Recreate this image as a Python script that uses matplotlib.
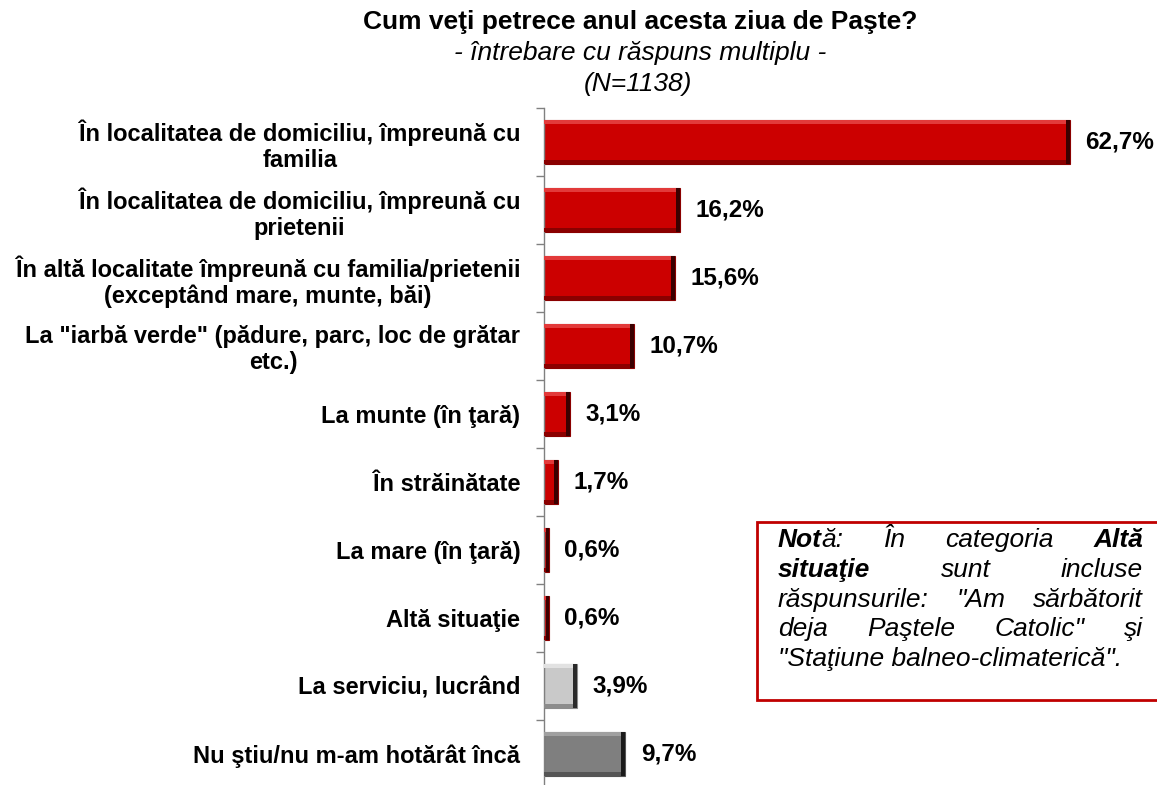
import matplotlib
matplotlib.use("Agg")
import matplotlib.pyplot as plt
import matplotlib.patches as mpatches
import matplotlib.transforms as mtransforms

# Date
categorii = [
    "În localitatea de domiciliu, împreună cu\nfamilia",
    "În localitatea de domiciliu, împreună cu\nprietenii",
    "În altă localitate împreună cu familia/prietenii\n(exceptând mare, munte, băi)",
    "La \"iarbă verde\" (pădure, parc, loc de grătar\netc.)",
    "La munte (în ţară)",
    "În străinătate",
    "La mare (în ţară)",
    "Altă situaţie",
    "La serviciu, lucrând",
    "Nu ştiu/nu m-am hotărât încă",
]
procente = [62.7, 16.2, 15.6, 10.7, 3.1, 1.7, 0.6, 0.6, 3.9, 9.7]
etichete = ["62,7%", "16,2%", "15,6%", "10,7%", "3,1%", "1,7%", "0,6%", "0,6%", "3,9%", "9,7%"]
tip = ["r", "r", "r", "r", "r", "r", "r", "r", "g1", "g2"]

titlu = "Cum veţi petrece anul acesta ziua de Paşte?"
subtitlu = "- întrebare cu răspuns multiplu -"
baza = "(N=1138)"

# culori: fata, lumina, umbra, capat
culori = {
    "r": ("#CC0000", "#E23A3A", "#8A0000", "#3A0000"),
    "g1": ("#C9C9C9", "#E2E2E2", "#8C8C8C", "#2A2A2A"),
    "g2": ("#7F7F7F", "#A0A0A0", "#555555", "#1A1A1A"),
}

FONT = "Liberation Sans"
W, H = 1157, 785
fig = plt.figure(figsize=(W / 100, H / 100), dpi=100)

ax_left, ax_top, ax_bot = 544, 108, 788
xmax = 72.0
px_per_unit = 8.39
ax_w = xmax * px_per_unit
ax = fig.add_axes([ax_left / W, 1 - ax_bot / H, ax_w / W, (ax_bot - ax_top) / H])

n = len(procente)
y = list(range(n))
h = 0.64
tx = 4 / px_per_unit       # grosime capat (unitati de date)
ty = 4 / 68.0              # grosime bevel sus/jos

for i, v in enumerate(procente):
    fata, lum, umb, cap = culori[tip[i]]
    ax.barh(i, v, height=h, color=fata, edgecolor=umb, linewidth=0.8, zorder=2)
    ax.barh(i - h / 2 + ty / 2, v, height=ty, color=lum, linewidth=0, zorder=3)
    ax.barh(i + h / 2 - ty / 2, v, height=ty, color=umb, linewidth=0, zorder=3)
    ax.barh(i, min(tx, v * 0.6), left=v - min(tx, v * 0.6), height=h, color=cap, linewidth=0, zorder=4)
    ax.annotate(etichete[i], (v, i), xytext=(11, 0), textcoords="offset points",
                ha="left", va="center", fontsize=17.5, fontweight="bold", family=FONT)

ax.set_xlim(0, xmax)
ax.set_ylim(n - 0.5, -0.5)
ax.set_yticks(y)
ax.set_yticklabels(categorii, fontsize=17, fontweight="bold", family=FONT,
                   multialignment="center", linespacing=1.15)
ax.set_yticks([k - 0.5 for k in range(n + 1)], minor=True)
ax.tick_params(axis="y", which="major", length=0, pad=17)
ax.tick_params(axis="y", which="minor", length=6, color="#808080", width=1)
ax.set_xticks([])
for s in ["top", "right", "bottom"]:
    ax.spines[s].set_visible(False)
ax.spines["left"].set_color("#808080")
ax.spines["left"].set_linewidth(1)

# Titlu
fig.text(640 / W, 1 - 22 / H, titlu, ha="center", va="center", fontsize=19,
         fontweight="bold", family=FONT)
fig.text(640 / W, 1 - 53 / H, subtitlu, ha="center", va="center", fontsize=19,
         style="italic", family=FONT)
fig.text(638 / W, 1 - 84 / H, baza, ha="center", va="center", fontsize=19,
         style="italic", family=FONT)

# Nota (text justificat)
ident = mtransforms.IdentityTransform()
caseta = mpatches.Rectangle((757, H - 700), 420, 178, transform=ident,
                            facecolor="white", edgecolor="#C00000", linewidth=2)
fig.add_artist(caseta)

nota = [
    [[("Not", "bold"), ("ă:", "normal")], [("În", "normal")], [("categoria", "normal")], [("Altă", "bold")]],
    [[("situaţie", "bold")], [("sunt", "normal")], [("incluse", "normal")]],
    [[("răspunsurile:", "normal")], [("\"Am", "normal")], [("sărbătorit", "normal")]],
    [[("deja", "normal")], [("Paştele", "normal")], [("Catolic\"", "normal")], [("şi", "normal")]],
    [[("\"Staţiune balneo-climaterică\".", "normal")]],
]
fs_nota = 19
x0, x1 = 778, 1143
rend = fig.canvas.get_renderer()


def latime(seg, wt):
    t = fig.text(0, 0, seg, fontsize=fs_nota, style="italic", fontweight=wt,
                 family=FONT, transform=ident)
    w = t.get_window_extent(rend).width
    t.remove()
    return w


for li, linie in enumerate(nota):
    yb = H - (547 + 29.8 * li)
    latimi = [[latime(s, wt) for s, wt in cuv] for cuv in linie]
    total = sum(sum(l) for l in latimi)
    if len(linie) > 1 and li < len(nota) - 1:
        gol = (x1 - x0 - total) / (len(linie) - 1)
    else:
        gol = 0
    x = x0
    for cuv, lw in zip(linie, latimi):
        for (s, wt), w in zip(cuv, lw):
            fig.text(x, yb, s, fontsize=fs_nota, style="italic", fontweight=wt,
                     family=FONT, transform=ident, va="baseline", ha="left")
            x += w
        x += gol

fig.savefig("out.png", dpi=100)
